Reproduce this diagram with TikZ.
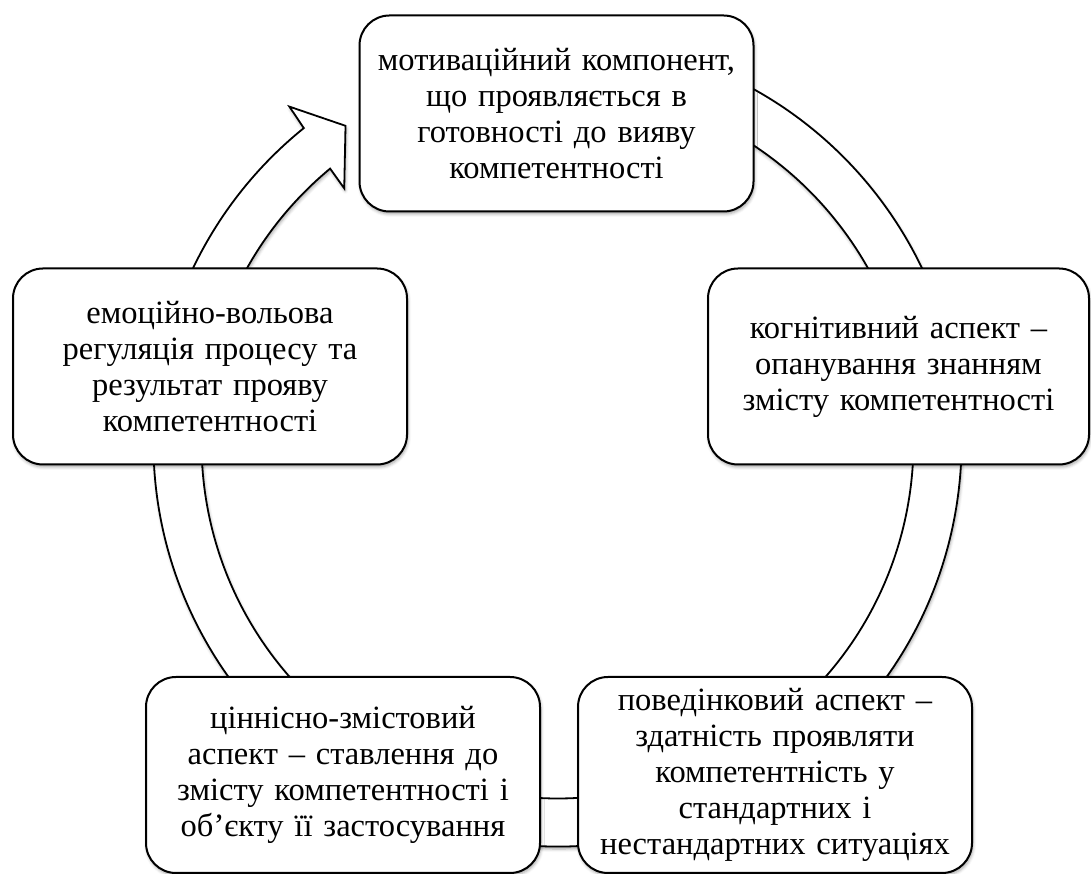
\documentclass[tikz,border=0pt]{standalone}
\usepackage{fontspec}
\setmainfont{Liberation Serif}
\usetikzlibrary{shadows.blur}

\tikzset{
  softshadow/.style={blur shadow={shadow xshift=1pt, shadow yshift=-2.5pt,
      shadow blur radius=3pt, shadow opacity=35}},
  cyclebox/.style={draw=black, line width=2pt, fill=white, rounded corners=30pt,
      minimum width=394pt, minimum height=196pt, text width=386pt, align=center,
      inner sep=0pt, font=\fontsize{32.5}{36}\selectfont, softshadow},
  ringarrow/.style={draw=black, line width=1.8pt, fill=white, line join=miter, softshadow}
}

\begin{document}
\begin{tikzpicture}[x=1pt, y=1pt]
  \useasboundingbox (0,0) rectangle (1091,874);

  % circular arrow running clockwise behind the boxes
  \begin{scope}[shift={(557.5,431.5)}]
    \draw[ringarrow]
      (80:404) arc[start angle=80, end angle=-231.1, radius=404]
      -- (128.6:429.8) -- (123.8:381.1) -- (130.0:331.8) -- (129.7:356)
      arc[start angle=-230.3, end angle=80, radius=356] -- cycle;
  \end{scope}

  % the five components
  \node[cyclebox] (motiv) at (556.5,760.5)
    {мотиваційний компонент,\\ що проявляється в\\ готовності до вияву\\ компетентності};
  \node[cyclebox, minimum width=381pt, text width=373pt] (cogn) at (898.5,507.5)
    {когнітивний аспект –\\ опанування знанням\\ змісту компетентності};
  \node[cyclebox] (behav) at (775,99)
    {поведінковий аспект –\\ здатність проявляти\\ компетентність у\\ стандартних і\\ нестандартних ситуаціях};
  \node[cyclebox] (value) at (343,99)
    {ціннісно-змістовий\\ аспект – ставлення до\\ змісту компетентності і\\ об’єкту її застосування};
  \node[cyclebox] (emot) at (210,507.5)
    {емоційно-вольова\\ регуляція процесу та\\ результат прояву\\ компетентності};
\end{tikzpicture}
\end{document}
